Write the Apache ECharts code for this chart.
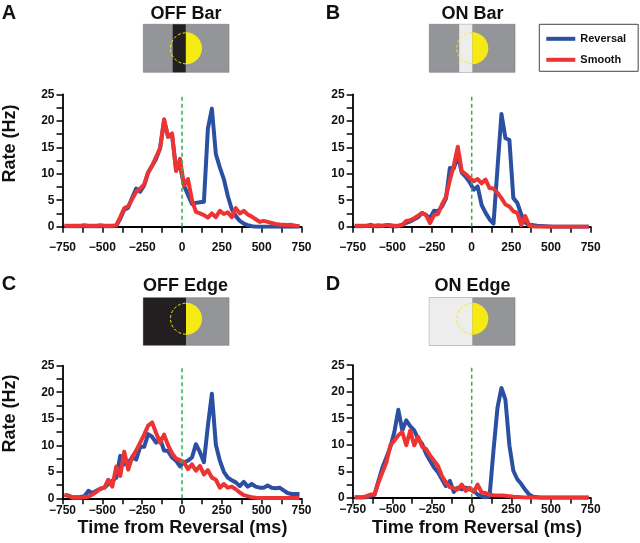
<!DOCTYPE html>
<html>
<head>
<meta charset="utf-8">
<script src="https://cdn.jsdelivr.net/npm/echarts@6/dist/echarts.min.js"></script>
<style>
html,body{margin:0;padding:0;background:#fff;}
#chart{width:640px;height:543px;}
</style>
</head>
<body>
<div id="chart"></div>
<script>
// ---- data ----
const times = [-737.5,-712.5,-687.5,-662.5,-637.5,-612.5,-587.5,-562.5,-537.5,-512.5,-487.5,-462.5,-437.5,-412.5,-387.5,-362.5,-337.5,-312.5,-287.5,-262.5,-237.5,-212.5,-187.5,-162.5,-137.5,-112.5,-87.5,-62.5,-37.5,-12.5,12.5,37.5,62.5,87.5,112.5,137.5,162.5,187.5,212.5,237.5,262.5,287.5,312.5,337.5,362.5,387.5,412.5,437.5,462.5,487.5,512.5,537.5,562.5,587.5,612.5,637.5,662.5,687.5,712.5,737.5];

const reversalA = [0.1,0.1,0.1,0.1,0.1,0.1,0.1,0.1,0.1,0.1,0.1,0.1,0.1,
  0.2,1.5,3.2,3.6,5.5,7.2,6.6,7.8,10.2,11.5,12.8,14.8,20,17,17.3,11,11.5,7.8,6,4.3,4.5,4.6,4.7,18.5,22.3,13.7,11.2,9,5.8,3.3,2,1.1,0.6,0.3,0.1,
  0,0,0,0,0,0,0,0,0,0,0,0];
const smoothA = [0.2,0.2,0.2,0.2,0.2,0.3,0.2,0.2,0.2,0.3,0.2,0.2,0.2,
  0.3,1.8,3.5,3.9,5.2,6.6,7.2,8,10.3,11.5,13.2,14.8,20.3,17,17.6,10.5,12.8,7.8,9,5,2.8,2.5,2.2,1.7,2.5,1.8,3,2.4,2.7,1.8,3.5,2.5,3,2.3,1.9,1.4,0.9,1.1,0.9,0.7,0.5,0.4,0.35,0.3,0.35,0.2,0.1];

const reversalB = [0.1,0.1,0.1,0.15,0.35,0.1,0.1,0.15,0.3,0.1,0.05,0.1,
  0.4,0.7,1.0,1.4,1.8,2.6,2.2,1.6,3.0,2.9,3.8,5.3,11.1,11.0,13.4,10.2,9.4,8.4,7.0,7.6,4.1,2.6,1.4,0.6,11.0,21.3,16.7,16.4,5.4,4.5,2.3,0.8,0.3,0.3,0.2,0.15,0.1,0.05,
  0,0,0,0,0,0,0,0,0,0];
const smoothB = [0.2,0.2,0.2,0.2,0.2,0.2,0.3,0.2,0.3,0.3,0.2,0.2,
  0.3,1.1,1.2,1.6,2.1,2.6,2.2,0.7,2.2,2.4,4.2,5.6,8.8,11.6,15.1,10.5,9.9,9.2,8.6,9.0,8.2,8.9,7.3,7.2,6.4,5.4,4.2,3.8,2.9,2.6,0.3,2.0,0.2,0.05,
  0,0,0,0,0,0,0,0,0,0,0,0,0,0];

const reversalC = [0.6,0.5,0.2,0.2,0.25,0.4,1.4,1.0,1.4,1.8,2.0,2.7,3.3,3.9,8.0,6.4,6.7,7.7,7.3,9.7,9.7,12.1,11.6,10.5,11.2,9.0,8.9,7.7,7.1,6.0,
  6.8,7.1,7.7,10.2,8.7,6.8,13.7,19.7,10.1,7.1,5.0,3.9,3.4,3.0,2.3,3.1,2.2,2.7,2.2,2.0,2.0,2.4,2.0,1.9,2.0,1.5,1.0,0.8,0.8,0.8];
const smoothC = [0.7,0.5,0.1,0.1,0.1,0.2,0.3,0.7,1.2,1.8,2.0,3.5,2.2,6.0,4.2,8.8,5.4,7.8,9.0,10.5,12.0,13.7,14.3,12.3,10.5,12.0,10.0,8.5,7.5,7.2,
  6.8,5.5,6.4,5.2,6.1,4.5,5.3,3.9,3.5,2.0,2.7,2.0,2.2,1.7,1.1,0.6,0.4,0.2,0.1,0.05,0.05,0.05,0.05,0.05,0.05,0.05,0.05,0.05,0.05,0.05];

const reversalD = [0.05,0.05,0.05,0.1,0.3,0.6,3.2,5.7,7.6,9.6,12.4,16.6,12.7,14.6,13.5,12.7,11.1,10.2,8.3,7.0,5.7,4.8,3.5,2.2,3.2,1.1,1.9,1.6,1.9,1.6,
  1.3,0.6,0.3,0.1,0.3,9.0,17.0,20.7,18.5,9.9,5.1,3.5,2.6,1.5,0.6,0.2,0.1,0,0,0,0,0,0,0,0,0,0,0,0,0];
const smoothD = [0.1,0.1,0.1,0.3,0.6,0.6,2.9,4.8,6.7,9.9,10.8,11.8,12.4,9.9,12.7,9.9,11.5,9.6,9.2,8.0,7.0,6.0,4.1,2.9,2.0,1.8,1.6,2.5,1.3,1.9,
  1.1,2.5,1.0,0.9,0.6,0.5,0.45,0.45,0.4,0.3,0.2,0.15,0.1,0.05,0.05,0.05,0.05,0.05,0.05,0.05,0.05,0.05,0.05,0.05,0.05,0.05,0.05,0.05,0.05,0.05];

const panelLetters = ['A','B','C','D'];
const panelTitles = ['OFF Bar','ON Bar','OFF Edge','ON Edge'];
const seriesNames = ['Reversal','Smooth'];
const reversalTime = 0;
const xMin = -750, xMax = 750, yMin = 0, yMax = 25;
const yAxisTitle = 'Rate (Hz)';
const xAxisTitle = 'Time from Reversal (ms)';

// ---- layout & style ----
const FONT = "'Liberation Sans', Arial, Helvetica, sans-serif";
const BLUE = '#2a4fa3';
const RED = '#ee3432';
const GREEN = '#2bb24c';
const grids = [
  {left: 62.5, top: 94.3, width: 239, height: 132.4},
  {left: 352.7, top: 94.3, width: 238, height: 132.4},
  {left: 62.5, top: 365.7, width: 239, height: 132.6},
  {left: 352.7, top: 365.2, width: 238, height: 132.6}
];
const xLabelMargins = [15, 15, 6, 6];
const panelData = [
  [reversalA, smoothA],
  [reversalB, smoothB],
  [reversalC, smoothC],
  [reversalD, smoothD]
];

function fmtX(v) {
  if (v % 250 !== 0) return '';
  return v < 0 ? '\u2212' + (-v) : String(v);
}
function fmtY(v) {
  return (Math.round(v * 10) % 50 === 0) ? String(v) : '';
}

const xAxes = [], yAxes = [], series = [];
grids.forEach((g, i) => {
  xAxes.push({
    type: 'value', gridIndex: i, min: xMin, max: xMax, interval: 125,
    axisLine: {show: true, onZero: false, lineStyle: {color: '#000', width: 1.8}},
    axisTick: {show: true, length: 6, lineStyle: {color: '#000', width: 1.5}},
    splitLine: {show: false},
    axisLabel: {formatter: fmtX, fontSize: 12, fontWeight: 'bold', fontFamily: FONT, color: '#111', margin: xLabelMargins[i], showMinLabel: true, showMaxLabel: true}
  });
  yAxes.push({
    type: 'value', gridIndex: i, min: yMin, max: yMax, interval: 2.5,
    axisLine: {show: true, onZero: false, lineStyle: {color: '#000', width: 1.8}},
    axisTick: {show: true, length: 6, lineStyle: {color: '#000', width: 1.5}},
    splitLine: {show: false},
    axisLabel: {formatter: fmtY, fontSize: 12, fontWeight: 'bold', fontFamily: FONT, color: '#111', margin: 8, showMinLabel: true, showMaxLabel: true}
  });
  const [rev, smo] = panelData[i];
  series.push({
    name: seriesNames[0], type: 'line', xAxisIndex: i, yAxisIndex: i,
    data: times.map((t, j) => [t, rev[j]]),
    showSymbol: false, symbol: 'none', color: BLUE,
    lineStyle: {color: BLUE, width: 4, join: 'round'}, z: 2
  });
  series.push({
    name: seriesNames[1], type: 'line', xAxisIndex: i, yAxisIndex: i,
    data: times.map((t, j) => [t, smo[j]]),
    showSymbol: false, symbol: 'none', color: RED,
    lineStyle: {color: RED, width: 4, join: 'round'}, z: 3
  });
  series.push({
    name: 'zero', type: 'line', xAxisIndex: i, yAxisIndex: i,
    data: [[reversalTime, yMin], [reversalTime, yMax]],
    showSymbol: false, symbol: 'none', silent: true, color: GREEN,
    lineStyle: {color: GREEN, width: 1.5, type: [4, 3]}, z: 4
  });
});

// ---- decorative graphics: letters, titles, stimulus icons, axis titles ----
const GRAY = '#939598', DARK = '#231f20', LIGHT = '#ededee', YELLOW = '#f6ea14';
function txt(x, y, text, size, extra) {
  return Object.assign({
    type: 'text', x: x, y: y,
    style: {text: text, fontSize: size, fontWeight: 'bold', fontFamily: FONT, fill: '#111',
      textAlign: 'center', textVerticalAlign: 'middle', align: 'center', verticalAlign: 'middle'}
  }, extra || {});
}
function icon(x, y, w, h, leftColor, barX, barW, barColor, cx, cy, r) {
  const els = [];
  els.push({type: 'rect', shape: {x: x, y: y, width: w, height: h}, style: {fill: GRAY, stroke: '#7a7c7f', lineWidth: 0.6}});
  if (leftColor) els.push({type: 'rect', shape: {x: x, y: y, width: cx - x, height: h}, style: {fill: leftColor}});
  if (barColor) els.push({type: 'rect', shape: {x: barX, y: y, width: barW, height: h}, style: {fill: barColor}});
  els.push({type: 'sector', shape: {cx: cx, cy: cy, r0: 0, r: r, startAngle: -Math.PI / 2, endAngle: Math.PI / 2, clockwise: true}, style: {fill: YELLOW}});
  els.push({type: 'arc', shape: {cx: cx, cy: cy, r: r - 0.5, startAngle: Math.PI / 2, endAngle: Math.PI * 1.5, clockwise: true}, style: {fill: null, stroke: YELLOW, lineWidth: 1, lineDash: [3, 2]}});
  return els;
}

let graphics = [];
graphics.push(txt(9, 13, panelLetters[0], 20));
graphics.push(txt(333, 13, panelLetters[1], 20));
graphics.push(txt(9, 284, panelLetters[2], 20));
graphics.push(txt(333, 284, panelLetters[3], 20));
graphics.push(txt(186, 14, panelTitles[0], 18));
graphics.push(txt(472.5, 14, panelTitles[1], 18));
graphics.push(txt(185.5, 286, panelTitles[2], 18));
graphics.push(txt(472.5, 286, panelTitles[3], 18));
graphics = graphics.concat(icon(143.3, 24.3, 85.7, 48, null, 172.7, 13, DARK, 186, 48.3, 16));
graphics = graphics.concat(icon(429.3, 24.3, 85.7, 48, null, 459.2, 13.1, LIGHT, 472.3, 48.3, 16));
graphics = graphics.concat(icon(143.3, 297.7, 85.7, 47.6, DARK, 0, 0, null, 186, 318.7, 16));
graphics = graphics.concat(icon(429.3, 297.7, 85.7, 47.6, LIGHT, 0, 0, null, 472.3, 318.7, 16));
graphics.push(txt(10.5, 143.5, yAxisTitle, 18, {rotation: Math.PI / 2}));
graphics.push(txt(10.5, 413.5, yAxisTitle, 18, {rotation: Math.PI / 2}));
graphics.push(txt(182.5, 528, xAxisTitle, 18));
graphics.push(txt(477, 528, xAxisTitle, 18));

const chart = echarts.init(document.getElementById('chart'), null, {renderer: 'canvas'});
chart.setOption({
  animation: false,
  backgroundColor: '#ffffff',
  grid: grids.map(g => Object.assign({containLabel: false}, g)),
  xAxis: xAxes,
  yAxis: yAxes,
  legend: {
    orient: 'vertical', left: 539.3, top: 24.3,
    data: seriesNames, icon: 'rect', itemWidth: 29, itemHeight: 4, itemGap: 10,
    padding: [9, 12, 6, 7], borderColor: '#444', borderWidth: 1,
    textStyle: {fontSize: 11, fontWeight: 'bold', fontFamily: FONT, color: '#111'}
  },
  graphic: {elements: graphics},
  series: series
});
</script>
</body>
</html>
